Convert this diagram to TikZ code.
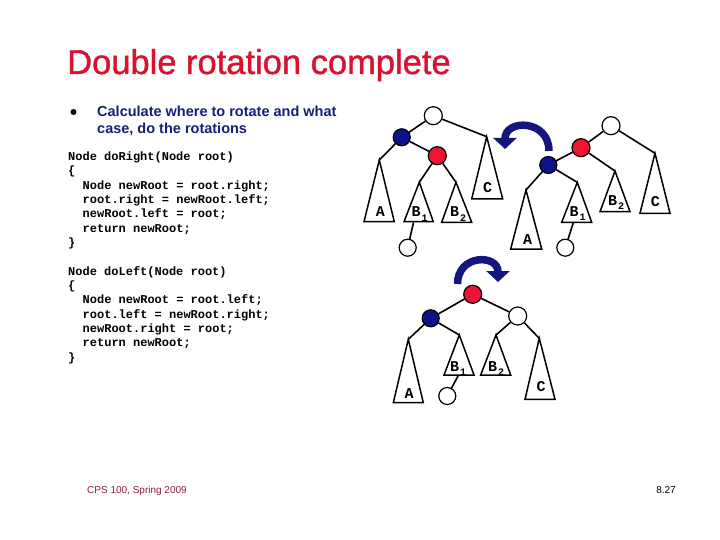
\documentclass[tikz,border=0pt]{standalone}
\usepackage{fontspec}
\setmainfont{Liberation Sans}
\newfontfamily\codefont{Liberation Mono}
\newfontfamily\titlefont[FakeBold=1.2]{Liberation Sans}
\usetikzlibrary{arrows.meta}
\definecolor{titlered}{RGB}{218,18,48}
\definecolor{navytext}{RGB}{22,30,120}
\definecolor{nodeblue}{RGB}{12,18,135}
\definecolor{nodered}{RGB}{238,20,50}
\definecolor{arrowblue}{RGB}{20,22,125}
\definecolor{footred}{RGB}{140,28,60}
\newcommand{\lblsub}[1]{\kern1pt\raisebox{-4.5pt}{\fontsize{10}{10}\selectfont #1}}
\begin{document}
\begin{tikzpicture}[x=1pt,y=-1pt,
  wnode/.style={circle,draw=black,line width=1.2pt,fill=white,minimum size=18pt,inner sep=0pt},
  bnode/.style={wnode,fill=nodeblue,minimum size=17pt},
  rnode/.style={wnode,fill=nodered},
  tri/.style={draw=black,line width=1.5pt,fill=white,line join=miter},
  edge/.style={draw=black,line width=1.6pt},
  lbl/.style={font=\codefont\bfseries\fontsize{15}{15}\selectfont,inner sep=0pt,anchor=base},
  lblw/.style={lbl,anchor=base west},
  codeline/.style={font=\codefont\bfseries\fontsize{12}{12}\selectfont,inner sep=0pt,anchor=base west},
  bigarrow/.style={line width=7.5pt,draw=arrowblue,-{Triangle[width=23pt,length=11pt]}}]
\useasboundingbox (0,0) rectangle (720,540);

% title and bullet
\node[anchor=base west,inner sep=0pt,text=titlered,font=\titlefont\fontsize{34.5}{34.5}\selectfont] (title) at (67,74) {Double rotation complete};
\node[circle,fill=black,inner sep=0pt,minimum size=6pt] (bullet) at (73.5,112) {};
\node[anchor=base west,inner sep=0pt,text=navytext,font=\bfseries\fontsize{14.5}{14.5}\selectfont] (b1) at (97,116.7) {Calculate where to rotate and what};
\node[anchor=base west,inner sep=0pt,text=navytext,font=\bfseries\fontsize{14.5}{14.5}\selectfont] (b2) at (97,133.3) {case, do the rotations};

% code
\node[codeline] (c0) at (68,160.5) {Node doRight(Node root)};
\node[codeline] (c1) at (68,174.83) {\{};
\node[codeline] (c2) at (82.5,189.16) {Node newRoot = root.right;};
\node[codeline] (c3) at (82.5,203.49) {root.right = newRoot.left;};
\node[codeline] (c4) at (82.5,217.82) {newRoot.left = root;};
\node[codeline] (c5) at (82.5,232.15) {return newRoot;};
\node[codeline] (c6) at (68,246.48) {\}};
\node[codeline] (c8) at (68,275.14) {Node doLeft(Node root)};
\node[codeline] (c9) at (68,289.47) {\{};
\node[codeline] (c10) at (82.5,303.8) {Node newRoot = root.left;};
\node[codeline] (c11) at (82.5,318.13) {root.left = newRoot.right;};
\node[codeline] (c12) at (82.5,332.46) {newRoot.right = root;};
\node[codeline] (c13) at (82.5,346.79) {return newRoot;};
\node[codeline] (c14) at (68,361.12) {\}};

% footer
\node[anchor=base west,inner sep=0pt,text=footred,font=\fontsize{10}{10}\selectfont] (foot) at (87,493) {CPS 100, Spring 2009};
\node[anchor=base east,inner sep=0pt,font=\fontsize{10}{10}\selectfont] (page) at (676,493) {8.27};

% ---------- tree 1 ----------
\coordinate (t1A) at (379.3,160);
\coordinate (t1B) at (419.3,182.3);
\coordinate (t1D) at (456,182.3);
\coordinate (t1C) at (486.7,136.7);
\coordinate (t1Bb) at (413.5,222.5);
\draw[tri] (t1A) -- (364,221.7) -- (394.3,221.7) -- cycle;
\draw[tri] (t1B) -- (404,221.7) -- (433.3,221.7) -- cycle;
\draw[tri] (t1D) -- (441.7,222.3) -- (471.7,222.3) -- cycle;
\draw[tri] (t1C) -- (471.7,199) -- (502.7,199) -- cycle;
\node[lbl] (t1Al) at (380.3,217) {A};
\node[lblw] (t1Bl) at (411.5,217) {B\lblsub{1}};
\node[lblw] (t1Dl) at (450,217) {B\lblsub{2}};
\node[lbl] (t1Cl) at (487.7,193) {C};
\node[wnode] (t1r) at (433.3,115.7) {};
\node[bnode] (t1b) at (401.7,137.3) {};
\node[rnode] (t1x) at (437.3,155.7) {};
\node[wnode,minimum size=17pt] (t1n) at (407.7,247.7) {};
\draw[edge] (t1r) -- (t1b);
\draw[edge] (t1r) -- (t1C);
\draw[edge] (t1b) -- (t1A);
\draw[edge] (t1b) -- (t1x);
\draw[edge] (t1x) -- (t1B);
\draw[edge] (t1x) -- (t1D);
\draw[edge] (t1Bb) -- (t1n);

% ---------- tree 2 ----------
\coordinate (t2A) at (526,190);
\coordinate (t2B) at (577.3,182.3);
\coordinate (t2D) at (615,171);
\coordinate (t2C) at (655,153.3);
\coordinate (t2Bb) at (573.3,222.8);
\draw[tri] (t2A) -- (510.7,249) -- (541.7,249) -- cycle;
\draw[tri] (t2B) -- (561.7,222.3) -- (591.7,222.3) -- cycle;
\draw[tri] (t2D) -- (600,211.7) -- (630,211.7) -- cycle;
\draw[tri] (t2C) -- (640,213.3) -- (670,213.3) -- cycle;
\node[lbl] (t2Al) at (527.7,244.5) {A};
\node[lblw] (t2Bl) at (569.5,216.5) {B\lblsub{1}};
\node[lblw] (t2Dl) at (608,205.5) {B\lblsub{2}};
\node[lbl] (t2Cl) at (655.3,207) {C};
\node[wnode] (t2r) at (611,125.7) {};
\node[rnode] (t2x) at (581,147.7) {};
\node[bnode] (t2b) at (548.3,165) {};
\node[wnode,minimum size=17pt] (t2n) at (565.3,247.7) {};
\draw[edge] (t2r) -- (t2x);
\draw[edge] (t2r) -- (t2C);
\draw[edge] (t2x) -- (t2b);
\draw[edge] (t2x) -- (t2D);
\draw[edge] (t2b) -- (t2A);
\draw[edge] (t2b) -- (t2B);
\draw[edge] (t2Bb) -- (t2n);

% ---------- tree 3 ----------
\coordinate (t3A) at (408.3,339.3);
\coordinate (t3B) at (459.3,335);
\coordinate (t3D) at (496,335);
\coordinate (t3C) at (539.3,338.3);
\coordinate (t3Bb) at (458.3,375.5);
\draw[tri] (t3A) -- (393.3,402.7) -- (423.3,402.7) -- cycle;
\draw[tri] (t3B) -- (444,375) -- (474,375) -- cycle;
\draw[tri] (t3D) -- (480.7,375) -- (510.7,375) -- cycle;
\draw[tri] (t3C) -- (525,399.3) -- (555,399.3) -- cycle;
\node[lbl] (t3Al) at (409,398.5) {A};
\node[lblw] (t3Bl) at (450,371) {B\lblsub{1}};
\node[lblw] (t3Dl) at (488,371) {B\lblsub{2}};
\node[lbl] (t3Cl) at (541,391) {C};
\node[rnode] (t3x) at (472.7,294.3) {};
\node[bnode] (t3b) at (430.7,318.3) {};
\node[wnode] (t3w) at (517.7,316) {};
\node[wnode,minimum size=17pt] (t3n) at (447.3,396) {};
\draw[edge] (t3x) -- (t3b);
\draw[edge] (t3x) -- (t3w);
\draw[edge] (t3b) -- (t3A);
\draw[edge] (t3b) -- (t3B);
\draw[edge] (t3w) -- (t3D);
\draw[edge] (t3w) -- (t3C);
\draw[edge] (t3Bb) -- (t3n);

% ---------- rotation arrows ----------
\coordinate (a1s) at (549,151);
\coordinate (a1e) at (505,149);
\draw[bigarrow] (a1s) .. controls (549,119) and (505,119) .. (a1e);
\coordinate (a2s) at (457.5,284);
\coordinate (a2e) at (498,282);
\draw[bigarrow] (a2s) .. controls (457.5,254) and (498,254) .. (a2e);
\end{tikzpicture}
\end{document}
